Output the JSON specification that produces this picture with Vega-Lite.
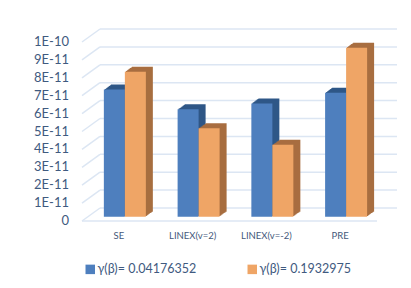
{"$schema":"https://vega.github.io/schema/vega-lite/v6.json","width":295,"height":179,"autosize":"none","padding":{"left":82,"top":42,"right":34,"bottom":67},"background":"white","config":{"view":{"stroke":null},"font":"Lato"},
"datasets":{"bars":[
{"method":"SE","series":"a","label":"γ(β)=  0.04176352","value_e11":7.1},
{"method":"LINEX(v=2)","series":"a","label":"γ(β)=  0.04176352","value_e11":6.0},
{"method":"LINEX(v=-2)","series":"a","label":"γ(β)=  0.04176352","value_e11":6.33},
{"method":"PRE","series":"a","label":"γ(β)=  0.04176352","value_e11":6.93},
{"method":"SE","series":"b","label":"γ(β)= 0.1932975","value_e11":8.1},
{"method":"LINEX(v=2)","series":"b","label":"γ(β)= 0.1932975","value_e11":4.94},
{"method":"LINEX(v=-2)","series":"b","label":"γ(β)= 0.1932975","value_e11":4.02},
{"method":"PRE","series":"b","label":"γ(β)= 0.1932975","value_e11":9.44}],
"grid":[{"v":0,"tick":"0"},{"v":1,"tick":"1E-11"},{"v":2,"tick":"2E-11"},{"v":3,"tick":"3E-11"},{"v":4,"tick":"4E-11"},{"v":5,"tick":"5E-11"},{"v":6,"tick":"6E-11"},{"v":7,"tick":"7E-11"},{"v":8,"tick":"8E-11"},{"v":9,"tick":"9E-11"},{"v":10,"tick":"1E-10"}]},
"resolve":{"scale":{"xOffset":"independent"}},
"layer":[
{"data":{"name":"grid"},"mark":{"type":"rule","color":"#DCE6F3","strokeWidth":1.5,"yOffset":-13,"y2Offset":-13},"encoding":{"x":{"value":18},"x2":{"value":315},"y":{"field":"v","type":"quantitative","axis":null,"scale":{"domain":[0,10],"nice":false}},"y2":{"field":"v"}}},
{"data":{"name":"grid"},"mark":{"type":"rule","color":"#DCE6F3","strokeWidth":1.5,"y2Offset":-13},"encoding":{"x":{"value":0},"x2":{"value":18},"y":{"field":"v","type":"quantitative","axis":null},"y2":{"field":"v"}}},
{"data":{"name":"grid"},"transform":[{"filter":"datum.v===0"}],"mark":{"type":"rule","color":"#DCE6F3","strokeWidth":1.5},"encoding":{"y":{"field":"v","type":"quantitative","axis":null}}},
{"data":{"name":"grid"},"mark":{"type":"text","align":"right","baseline":"middle","fontSize":13,"color":"#3F5A80"},"encoding":{"x":{"value":-13},"y":{"field":"v","type":"quantitative","axis":null},"text":{"field":"tick","type":"nominal"}}},
{"data":{"name":"bars"},"resolve":{"scale":{"xOffset":"independent"}},"encoding":{
"x":{"field":"method","type":"nominal","sort":null,"scale":{"paddingInner":0.43,"paddingOuter":0.215},"axis":{"title":null,"labelAngle":0,"domain":false,"ticks":false,"labelFontSize":9.5,"labelColor":"#44587A","labelPadding":14,"labelBaseline":"middle"}},
"y":{"field":"value_e11","type":"quantitative","scale":{"domain":[0,10],"nice":false},"axis":null},
"y2":{"datum":0}},
"layer":[
{"transform":[{"filter":"datum.series==='a'"}],"mark":{"type":"bar","color":"#2F5787","yOffset":-9.3,"y2Offset":-9.3},"encoding":{"xOffset":{"field":"series","type":"nominal","scale":{"domain":["a","b"],"range":[13,55]}}}},
{"transform":[{"filter":"datum.series==='a'"}],"mark":{"type":"bar","color":"#2F5787","yOffset":-8.6,"y2Offset":-8.6},"encoding":{"xOffset":{"field":"series","type":"nominal","scale":{"domain":["a","b"],"range":[12,54]}}}},
{"transform":[{"filter":"datum.series==='a'"}],"mark":{"type":"bar","color":"#2F5787","yOffset":-7.9,"y2Offset":-7.9},"encoding":{"xOffset":{"field":"series","type":"nominal","scale":{"domain":["a","b"],"range":[11,53]}}}},
{"transform":[{"filter":"datum.series==='a'"}],"mark":{"type":"bar","color":"#2F5787","yOffset":-7.2,"y2Offset":-7.2},"encoding":{"xOffset":{"field":"series","type":"nominal","scale":{"domain":["a","b"],"range":[10,52]}}}},
{"transform":[{"filter":"datum.series==='a'"}],"mark":{"type":"bar","color":"#2F5787","yOffset":-6.4,"y2Offset":-6.4},"encoding":{"xOffset":{"field":"series","type":"nominal","scale":{"domain":["a","b"],"range":[9,51]}}}},
{"transform":[{"filter":"datum.series==='a'"}],"mark":{"type":"bar","color":"#2F5787","yOffset":-5.7,"y2Offset":-5.7},"encoding":{"xOffset":{"field":"series","type":"nominal","scale":{"domain":["a","b"],"range":[8,50]}}}},
{"transform":[{"filter":"datum.series==='a'"}],"mark":{"type":"bar","color":"#2F5787","yOffset":-5,"y2Offset":-5},"encoding":{"xOffset":{"field":"series","type":"nominal","scale":{"domain":["a","b"],"range":[7,49]}}}},
{"transform":[{"filter":"datum.series==='b'"}],"mark":{"type":"bar","color":"#A86E40","yOffset":-9.3,"y2Offset":-9.3},"encoding":{"xOffset":{"field":"series","type":"nominal","scale":{"domain":["a","b"],"range":[13,55]}}}},
{"transform":[{"filter":"datum.series==='b'"}],"mark":{"type":"bar","color":"#A86E40","yOffset":-8.6,"y2Offset":-8.6},"encoding":{"xOffset":{"field":"series","type":"nominal","scale":{"domain":["a","b"],"range":[12,54]}}}},
{"transform":[{"filter":"datum.series==='b'"}],"mark":{"type":"bar","color":"#A86E40","yOffset":-7.9,"y2Offset":-7.9},"encoding":{"xOffset":{"field":"series","type":"nominal","scale":{"domain":["a","b"],"range":[11,53]}}}},
{"transform":[{"filter":"datum.series==='b'"}],"mark":{"type":"bar","color":"#A86E40","yOffset":-7.2,"y2Offset":-7.2},"encoding":{"xOffset":{"field":"series","type":"nominal","scale":{"domain":["a","b"],"range":[10,52]}}}},
{"transform":[{"filter":"datum.series==='b'"}],"mark":{"type":"bar","color":"#A86E40","yOffset":-6.4,"y2Offset":-6.4},"encoding":{"xOffset":{"field":"series","type":"nominal","scale":{"domain":["a","b"],"range":[9,51]}}}},
{"transform":[{"filter":"datum.series==='b'"}],"mark":{"type":"bar","color":"#A86E40","yOffset":-5.7,"y2Offset":-5.7},"encoding":{"xOffset":{"field":"series","type":"nominal","scale":{"domain":["a","b"],"range":[8,50]}}}},
{"transform":[{"filter":"datum.series==='b'"}],"mark":{"type":"bar","color":"#A86E40","yOffset":-5,"y2Offset":-5},"encoding":{"xOffset":{"field":"series","type":"nominal","scale":{"domain":["a","b"],"range":[7,49]}}}},
{"mark":{"type":"bar","yOffset":-4.3,"y2Offset":-4.3},"encoding":{"xOffset":{"field":"series","type":"nominal","scale":{"domain":["a","b"],"range":[6,48]}},"color":{"field":"label","type":"nominal","sort":null,"scale":{"range":["#4E7FBE","#EFA566"]},"legend":{"title":null,"orient":"none","legendX":2,"legendY":221,"direction":"horizontal","columns":2,"columnPadding":46,"symbolType":"square","symbolSize":90,"labelFontSize":12.5,"labelColor":"#3F5A80","labelOffset":1,"symbolStrokeWidth":0}}}}
]}
]}
